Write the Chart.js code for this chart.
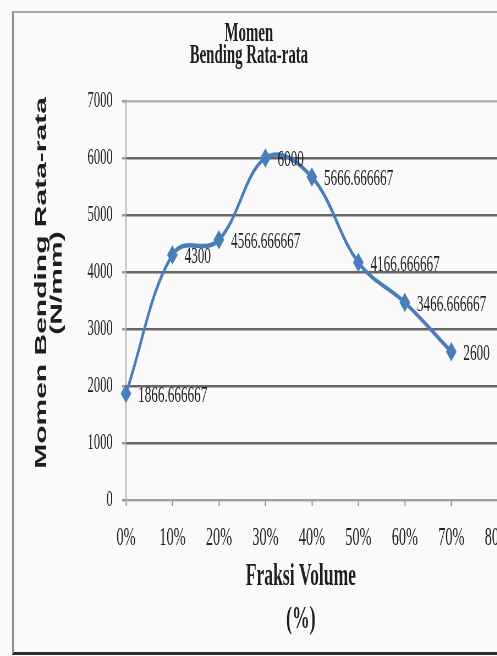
<!DOCTYPE html>
<html>
<head>
<meta charset="utf-8">
<script src="https://cdn.jsdelivr.net/npm/chart.js@4.4.1/dist/chart.umd.min.js"></script>
<style>
  html, body { margin: 0; padding: 0; background: #fafafa; overflow: hidden; width: 497px; height: 656px; }
  /* the chart is laid out wide and squeezed horizontally, giving tall narrow lettering */
  #stage { position: absolute; left: 0; top: 0; width: 1160px; height: 656px; transform: scaleX(0.55); transform-origin: 0 0; }
  #frame { position: absolute; left: 12px; top: 11px; width: 620px; height: 644px; box-sizing: border-box;
           border-left: 2px solid #8e8e8e; border-top: 2px solid #a8a8a8; border-bottom: 3px solid #2a2a2a; pointer-events: none; }
</style>
</head>
<body>
<div id="stage"><canvas id="chart"></canvas></div>
<div id="frame"></div>
<script>
// Fraksi volume categories and averaged bending moment values
const categories = ['0%', '10%', '20%', '30%', '40%', '50%', '60%', '70%', '80%'];
const momenValues = [1866.666667, 4300, 4566.666667, 6000, 5666.666667, 4166.666667, 3466.666667, 2600];
const yTickLabels = ['0', '1000', '2000', '3000', '4000', '5000', '6000', '7000'];
const chartTitle = ['Momen', 'Bending Rata-rata'];
const xTitle = ['Fraksi Volume', '(%)'];
const yTitle = ['Momen Bending Rata-rata', '(N/mm)'];

const SERIF = '"Liberation Serif", "Times New Roman", serif';
const SANS = '"Liberation Sans", Arial, sans-serif';
const LINE_BLUE = '#4a7ebb';

// value labels printed to the right of each marker
const valueLabels = {
  id: 'valueLabels',
  afterDatasetsDraw(chart) {
    const ctx = chart.ctx;
    const meta = chart.getDatasetMeta(0);
    ctx.save();
    ctx.font = '24px ' + SERIF;
    ctx.fillStyle = '#1e1e1e';
    ctx.textAlign = 'left';
    ctx.textBaseline = 'middle';
    meta.data.forEach((pt, i) => {
      ctx.fillText(String(momenValues[i]), pt.x + 22, pt.y + 2);
    });
    ctx.restore();
  }
};

// axis captions (x caption below ticks, y caption rotated on the left)
const axisCaptions = {
  id: 'axisCaptions',
  afterDraw(chart) {
    const ctx = chart.ctx;
    ctx.save();
    ctx.fillStyle = '#1e1e1e';
    ctx.textAlign = 'center';
    ctx.textBaseline = 'middle';
    ctx.font = 'bold 32px ' + SERIF;
    xTitle.forEach((t, i) => ctx.fillText(t, 547, 577 + i * 43));
    ctx.font = 'bold 30px ' + SANS;
    yTitle.forEach((t, i) => {
      ctx.save();
      ctx.translate(76 + i * 28, 283);
      ctx.rotate(-Math.PI / 2);
      ctx.fillText(t, 0, 0);
      ctx.restore();
    });
    ctx.restore();
  }
};

new Chart(document.getElementById('chart'), {
  type: 'line',
  data: {
    labels: categories,
    datasets: [{
      data: momenValues,
      borderColor: LINE_BLUE,
      backgroundColor: LINE_BLUE,
      borderWidth: 4.5,
      tension: 0.38,
      pointStyle: 'rectRot',
      pointRadius: 6.5,
      pointBackgroundColor: LINE_BLUE,
      pointBorderColor: LINE_BLUE,
      fill: false
    }]
  },
  options: {
    responsive: true,
    maintainAspectRatio: false,
    animation: false,
    layout: { padding: { left: 0, right: 255, top: 0, bottom: 0 } },
    plugins: {
      legend: { display: false },
      tooltip: { enabled: false },
      title: {
        display: true,
        text: chartTitle,
        color: '#1e1e1e',
        font: { family: SERIF, size: 27, weight: 'bold', lineHeight: '22px' },
        padding: { top: 23, bottom: 34 }
      }
    },
    scales: {
      x: {
        type: 'category',
        offset: false,
        afterFit: s => { s.height = 156; },
        grid: { drawOnChartArea: false, drawTicks: true, tickLength: 6, tickColor: '#8a8a8a', tickWidth: 2 },
        border: { display: true, color: '#a0a0a0', width: 2 },
        ticks: { color: '#222', font: { family: SERIF, size: 26 }, padding: 17, maxRotation: 0, autoSkip: false }
      },
      y: {
        min: 0,
        max: 7000,
        afterFit: s => { s.width = 229; },
        ticks: {
          stepSize: 1000,
          color: '#222',
          font: { family: SERIF, size: 23 },
          padding: 17,
          callback: (v, i) => yTickLabels[i]
        },
        grid: {
          color: c => (c.tick && (c.tick.value === 0 || c.tick.value === 7000)) ? '#b4b4b4' : '#666',
          lineWidth: 2.5,
          tickLength: 7,
          tickColor: '#9a9a9a'
        },
        border: { display: true, color: '#a8a8a8', width: 2 }
      }
    }
  },
  plugins: [valueLabels, axisCaptions]
});
</script>
</body>
</html>
